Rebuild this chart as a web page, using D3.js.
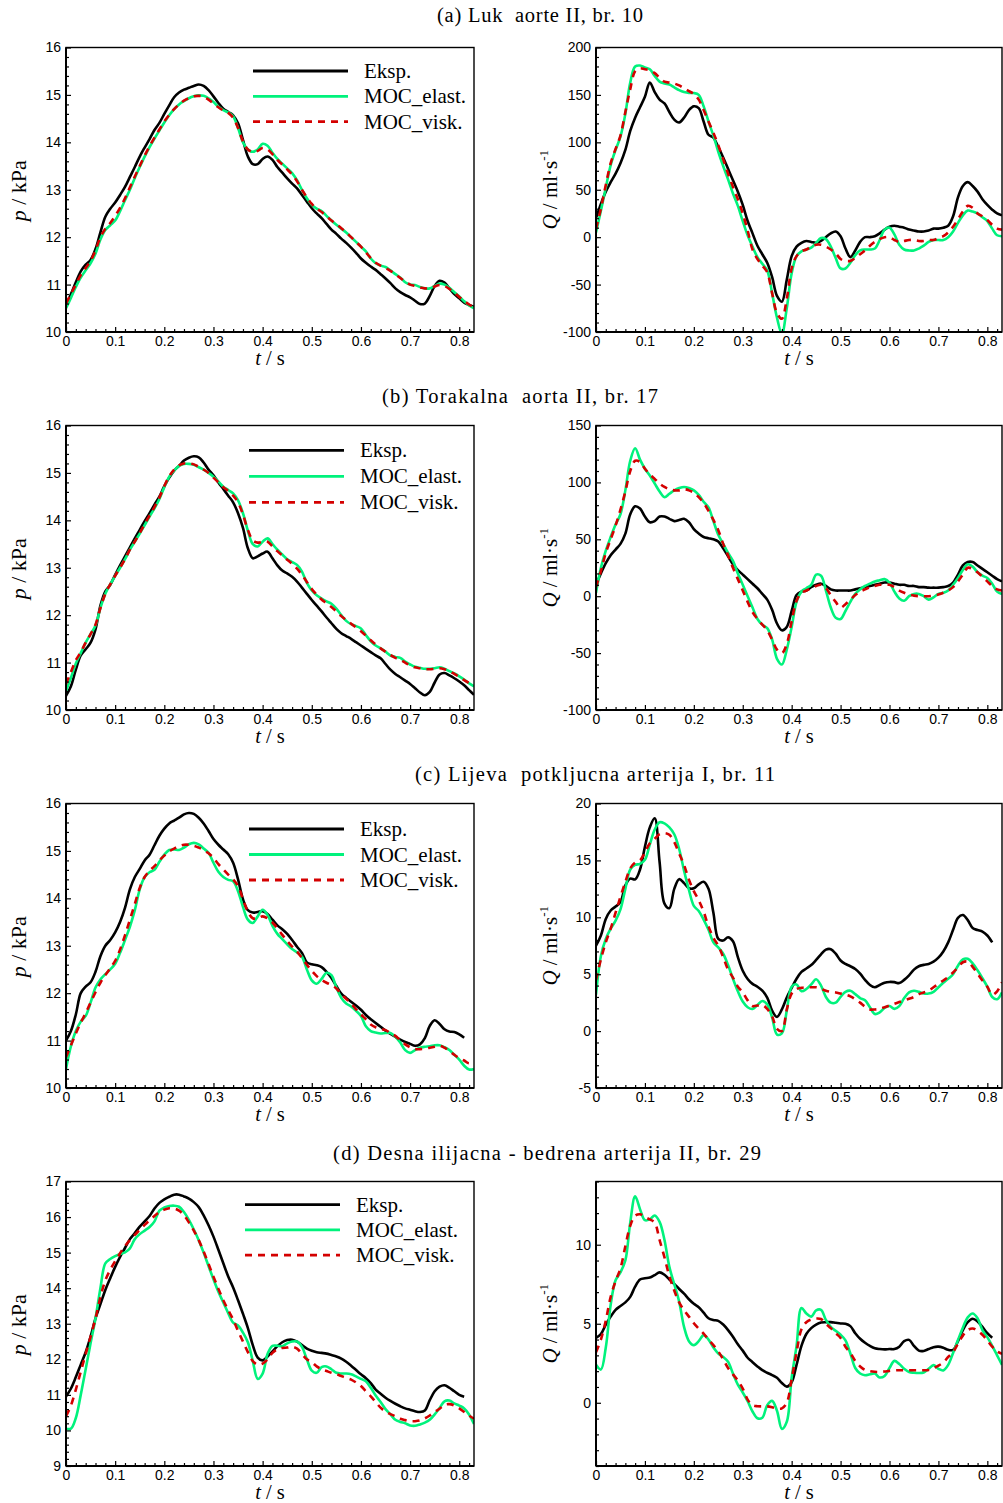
<!DOCTYPE html>
<html><head><meta charset="utf-8">
<script src="https://cdn.jsdelivr.net/npm/d3@7"></script>
<style>body{margin:0;background:#fff}svg{display:block}text{white-space:pre}</style>
</head><body>
<svg id="c" width="1003" height="1503"></svg>
<script>
// ---------- shared sampling grid (s) ----------
const t = [0,0.01,0.02,0.03,0.04,0.05,0.06,0.07,0.08,0.09,0.1,0.11,0.12,0.13,0.14,0.15,0.16,0.17,0.18,0.19,0.2,0.21,0.22,0.23,0.24,0.25,0.26,0.27,0.28,0.29,0.3,0.31,0.32,0.33,0.34,0.35,0.36,0.37,0.38,0.39,0.4,0.41,0.42,0.43,0.44,0.45,0.46,0.47,0.48,0.49,0.5,0.51,0.52,0.53,0.54,0.55,0.56,0.57,0.58,0.59,0.6,0.61,0.62,0.63,0.64,0.65,0.66,0.67,0.68,0.69,0.7,0.71,0.72,0.73,0.74,0.75,0.76,0.77,0.78,0.79,0.8,0.81,0.82,0.83];

const legendLabels = ["Eksp.", "MOC_elast.", "MOC_visk."];
const titles = ["(a) Luk  aorte II, br. 10", "(b) Torakalna  aorta II, br. 17", "(c) Lijeva  potkljucna arterija I, br. 11", "(d) Desna ilijacna - bedrena arterija II, br. 29"];
const xTicks = [0,0.1,0.2,0.3,0.4,0.5,0.6,0.7,0.8];
const xTickLabels = ["0","0.1","0.2","0.3","0.4","0.5","0.6","0.7","0.8"];
const pTicks16 = [10,11,12,13,14,15,16];
const pTicks17 = [9,10,11,12,13,14,15,16,17];
const qTicksA = [-100,-50,0,50,100,150,200];
const qTicksB = [-100,-50,0,50,100,150];
const qTicksC = [-5,0,5,10,15,20];
const qTicksD = [0,5,10];

// ---------- (a) ----------
const aP_eksp = [10.55,10.8,11.05,11.28,11.42,11.52,11.75,12.1,12.43,12.6,12.73,12.89,13.06,13.27,13.48,13.7,13.89,14.07,14.26,14.41,14.6,14.78,14.95,15.05,15.11,15.15,15.19,15.22,15.19,15.1,14.97,14.83,14.71,14.64,14.57,14.4,14.05,13.7,13.54,13.54,13.65,13.7,13.63,13.48,13.36,13.24,13.13,13.03,12.89,12.75,12.61,12.5,12.4,12.28,12.16,12.07,11.97,11.88,11.78,11.67,11.55,11.46,11.38,11.31,11.22,11.13,11.03,10.92,10.84,10.78,10.73,10.66,10.59,10.6,10.76,10.97,11.08,11.04,10.92,10.8,10.71,10.62,10.57,10.53];
const aP_elast = [10.5,10.72,10.95,11.15,11.3,11.45,11.65,11.95,12.15,12.25,12.35,12.55,12.78,13.0,13.25,13.48,13.7,13.9,14.08,14.25,14.42,14.57,14.7,14.8,14.87,14.93,14.97,14.99,14.98,14.93,14.85,14.75,14.68,14.63,14.55,14.3,14.0,13.85,13.8,13.85,13.97,13.93,13.78,13.65,13.55,13.45,13.35,13.2,13.0,12.82,12.68,12.6,12.55,12.45,12.35,12.26,12.18,12.1,12.0,11.9,11.8,11.7,11.55,11.45,11.4,11.37,11.3,11.22,11.15,11.05,11.0,10.99,10.95,10.92,10.92,10.97,11.02,11.0,10.93,10.84,10.75,10.65,10.56,10.5];
const aP_visk = [10.6,10.8,11.0,11.2,11.35,11.5,11.72,12.0,12.18,12.3,12.45,12.62,12.82,13.05,13.28,13.5,13.72,13.92,14.1,14.27,14.44,14.58,14.7,14.8,14.88,14.93,14.97,14.98,14.96,14.9,14.82,14.74,14.67,14.62,14.52,14.3,14.02,13.85,13.8,13.82,13.88,13.85,13.75,13.63,13.53,13.43,13.32,13.18,13.0,12.84,12.7,12.6,12.53,12.44,12.35,12.27,12.19,12.1,12.0,11.9,11.8,11.68,11.56,11.46,11.4,11.35,11.29,11.22,11.14,11.06,11.0,10.97,10.94,10.92,10.92,10.96,10.99,10.97,10.91,10.83,10.74,10.66,10.58,10.52];
const aQ_eksp = [20,35,48,58,67,78,92,112,126,137,148,163,153,145,141,132,124,121,126,134,138,136,122,108,105,95,84,72,60,48,34,17,4,-9,-18,-27,-42,-62,-68,-45,-20,-10,-6,-4,-5,-6,-4,0,4,6,1,-12,-21,-14,-5,0,0,1,4,8,11,12,11,10,8,7,6,6,7,9,9,10,12,22,42,54,58,54,48,40,34,29,25,23];
const aQ_elast = [5,28,52,76,92,106,130,163,180,181,179,177,170,164,162,161,158,155,153,152,152,150,138,122,107,90,75,61,46,33,17,2,-10,-21,-28,-35,-59,-85,-102,-75,-38,-20,-15,-13,-11,-6,-1,-2,-10,-22,-33,-33,-27,-19,-14,-13,-13,-12,-3,8,10,3,-8,-13,-14,-14,-12,-9,-5,-3,-3,-3,0,6,15,23,28,27,25,21,17,9,2,1];
const aQ_visk = [9,30,55,78,93,107,132,156,175,178,177,176,173,168,164,163,162,160,157,154,151,145,134,122,110,97,82,67,53,40,25,7,-13,-23,-30,-37,-59,-80,-86,-65,-33,-20,-15,-13,-10,-8,-8,-10,-13,-17,-23,-25,-25,-22,-18,-14,-9,-5,-2,0,0,-3,-5,-4,-3,-3,-4,-4,-3,-3,-1,1,5,11,19,27,33,31,25,22,18,13,9,8];

// ---------- (b) ----------
const bP_eksp = [10.3,10.5,10.85,11.15,11.28,11.42,11.7,12.2,12.5,12.64,12.85,13.05,13.24,13.43,13.62,13.8,13.98,14.15,14.33,14.5,14.72,14.9,15.05,15.15,15.26,15.32,15.35,15.33,15.22,15.07,14.95,14.8,14.66,14.52,14.38,14.15,13.84,13.41,13.2,13.24,13.3,13.34,13.2,13.05,12.94,12.88,12.81,12.71,12.58,12.45,12.32,12.2,12.08,11.95,11.83,11.71,11.62,11.56,11.5,11.43,11.36,11.29,11.22,11.15,11.09,10.97,10.85,10.76,10.69,10.62,10.55,10.46,10.37,10.31,10.38,10.58,10.75,10.78,10.73,10.67,10.6,10.52,10.42,10.32];
const bP_elast = [10.4,10.68,10.98,11.2,11.42,11.6,11.78,12.15,12.45,12.65,12.83,13.0,13.18,13.38,13.55,13.72,13.9,14.08,14.25,14.45,14.7,14.92,15.05,15.15,15.19,15.19,15.17,15.12,15.07,15.0,14.92,14.82,14.71,14.64,14.57,14.42,14.15,13.78,13.5,13.45,13.55,13.62,13.5,13.38,13.28,13.18,13.12,13.06,12.92,12.68,12.52,12.42,12.35,12.29,12.24,12.14,12.0,11.88,11.81,11.77,11.72,11.58,11.45,11.36,11.3,11.23,11.15,11.12,11.1,11.02,10.96,10.91,10.89,10.87,10.87,10.88,10.9,10.87,10.82,10.77,10.71,10.64,10.56,10.5];
const bP_visk = [10.55,10.8,11.05,11.22,11.42,11.6,11.8,12.15,12.45,12.65,12.83,13.0,13.18,13.38,13.55,13.73,13.92,14.1,14.28,14.48,14.72,14.93,15.07,15.16,15.2,15.2,15.18,15.13,15.07,15.0,14.9,14.8,14.7,14.62,14.52,14.38,14.12,13.8,13.58,13.53,13.55,13.55,13.45,13.35,13.26,13.17,13.08,12.98,12.85,12.7,12.55,12.43,12.33,12.25,12.17,12.08,11.98,11.9,11.82,11.74,11.66,11.57,11.47,11.38,11.3,11.23,11.16,11.1,11.06,11.0,10.94,10.9,10.88,10.86,10.86,10.87,10.88,10.86,10.82,10.76,10.7,10.63,10.57,10.52];
const bQ_eksp = [10,20,29,36,41,46,55,72,79,77,70,65,66,70,70,68,66,67,68,65,59,55,52,51,50,48,42,35,28,23,19,15,11,7,2,-3,-12,-24,-30,-27,-13,1,4,5,8,10,11,9,6,5,5,5,5,6,7,8,9,10,11,12,12,11,10,10,9,9,8,8,7.5,7.5,7.5,8,9,12,19,27,30,30,27,24,21,18,15,13];
const bQ_elast = [3,25,40,52,63,72,93,119,130,120,112,106,99,92,87,90,93,95,96,95,93,89,83,78,66,54,46,38,31,20,10,0,-10,-20,-25,-28,-38,-55,-60,-47,-27,-5,4,7,10,19,18,5,-10,-19,-20,-13,-5,2,6,9,11,13,14,15,12,4,-2,-4,0,2,2,0,-3,-1,2,3,5,10,16,23,28,26,21,18,16,11,4,2];
const bQ_visk = [8,22,38,50,62,76,92,110,119,118,112,107,103,99,96,94,93,93,94,93,91,87,82,75,67,58,46,36,25,15,5,-5,-14,-20,-25,-30,-38,-47,-50,-42,-22,-4,3,5,7,9,10,7,1,-5,-10,-7,-3,1,4,6,8,9,10,10,10,8,5,3,1.5,0.5,0,0,0,0.5,1.5,3,5,8,13,19,25,24,21,17,13,9,6,5];

// ---------- (c) ----------
const cP_eksp = [11.0,11.2,11.55,12.0,12.14,12.23,12.45,12.78,13.0,13.12,13.28,13.5,13.8,14.19,14.45,14.62,14.8,14.92,15.12,15.32,15.47,15.58,15.64,15.7,15.77,15.8,15.78,15.7,15.58,15.42,15.25,15.13,15.03,14.93,14.75,14.4,13.98,13.75,13.7,13.71,13.73,13.67,13.55,13.43,13.35,13.25,13.12,12.98,12.85,12.65,12.61,12.59,12.55,12.45,12.32,12.15,11.99,11.9,11.82,11.74,11.65,11.54,11.45,11.37,11.29,11.21,11.14,11.08,11.02,10.97,10.93,10.89,10.92,11.05,11.31,11.43,11.35,11.24,11.19,11.18,11.13,11.06,null,null];
const cP_elast = [10.4,10.88,11.2,11.4,11.52,11.8,12.12,12.29,12.4,12.5,12.62,12.85,13.12,13.4,13.75,14.19,14.45,14.55,14.6,14.77,14.92,15.02,15.03,15.02,15.07,15.14,15.17,15.14,15.05,14.96,14.75,14.56,14.45,14.39,14.36,14.15,13.82,13.55,13.48,13.62,13.76,13.65,13.42,13.25,13.14,13.03,12.93,12.86,12.77,12.5,12.27,12.2,12.3,12.43,12.38,12.12,11.9,11.78,11.72,11.63,11.52,11.3,11.2,11.17,11.15,11.16,11.16,11.08,10.96,10.8,10.74,10.8,10.85,10.87,10.88,10.9,10.9,10.86,10.8,10.7,10.6,10.47,10.39,10.4];
const cP_visk = [10.65,10.9,11.15,11.38,11.58,11.8,12.02,12.22,12.38,12.53,12.68,12.92,13.22,13.55,13.88,14.22,14.45,14.58,14.68,14.8,14.9,14.99,15.05,15.1,15.13,15.13,15.11,15.07,15.02,14.95,14.85,14.72,14.61,14.5,14.4,14.26,13.98,13.72,13.58,13.58,13.62,13.58,13.49,13.37,13.23,13.1,12.98,12.88,12.74,12.6,12.47,12.36,12.28,12.22,12.17,12.1,11.98,11.88,11.78,11.66,11.55,11.45,11.34,11.28,11.25,11.22,11.16,11.1,11.0,10.92,10.86,10.82,10.82,10.83,10.85,10.87,10.89,10.85,10.78,10.7,10.63,10.58,10.52,10.57];
const cQ_eksp = [7.5,8.4,9.86,10.6,10.95,11.33,12.8,13.4,13.33,14.2,16.2,17.9,18.7,14.86,11.2,10.8,12.5,13.35,13.0,12.55,12.55,12.9,13.12,12.5,10.4,8.1,7.96,8.25,7.9,6.5,5.3,4.58,4.15,3.9,3.55,2.95,1.8,1.25,1.9,2.95,3.8,4.6,5.2,5.5,5.8,6.25,6.75,7.16,7.2,6.8,6.2,5.9,5.7,5.46,5.05,4.5,4.05,3.85,4.05,4.25,4.32,4.3,4.22,4.5,4.9,5.4,5.7,5.82,5.9,6.1,6.45,7.0,7.8,8.9,9.95,10.2,9.75,9.05,8.88,8.75,8.4,7.8,null,null];
const cQ_elast = [3.2,6.6,8.1,9.0,9.7,10.7,12.5,14.2,14.6,14.7,15.05,16.4,17.7,18.35,18.25,17.9,17.3,16.0,14.1,12.4,11.0,10.55,9.8,8.9,7.8,7.35,6.8,5.8,4.6,3.5,2.6,2.1,1.95,2.3,2.65,2.35,1.2,-0.3,-0.2,1.8,3.9,4.1,3.5,3.7,4.1,4.55,4.0,3.0,2.5,2.5,3.0,3.45,3.55,3.25,2.9,2.7,2.1,1.5,1.65,2.05,2.2,1.95,2.2,2.9,3.4,3.55,3.45,3.3,3.3,3.45,3.85,4.25,4.6,5.0,5.75,6.3,6.35,5.95,5.35,4.65,3.9,3.0,2.8,3.4];
const cQ_visk = [4.5,6.3,7.8,9.0,10.4,11.8,13.1,14.3,14.8,15.0,15.7,16.5,16.9,17.3,17.4,17.25,16.6,15.6,14.6,13.3,12.3,11.5,10.5,9.2,8.2,7.5,6.5,5.4,4.7,3.9,3.4,2.7,2.2,2.25,2.3,1.95,1.3,0.2,0.0,1.9,3.3,3.7,3.8,3.85,3.85,3.85,3.7,3.55,3.45,3.4,3.3,3.2,3.05,2.8,2.5,2.15,1.9,1.9,1.95,2.1,2.25,2.4,2.55,2.7,2.85,3.0,3.25,3.4,3.55,3.85,4.15,4.45,4.75,5.15,5.6,6.05,6.1,5.65,5.05,4.45,3.9,3.2,3.5,4.3];

// ---------- (d) ----------
const dP_eksp = [10.95,11.18,11.5,11.85,12.2,12.64,13.15,13.55,13.95,14.28,14.6,14.88,15.13,15.38,15.55,15.73,15.88,16.03,16.24,16.4,16.5,16.57,16.63,16.63,16.58,16.52,16.42,16.28,16.05,15.77,15.45,15.08,14.7,14.33,14.02,13.66,13.28,12.88,12.4,12.05,11.97,12.08,12.22,12.37,12.48,12.54,12.55,12.5,12.4,12.3,12.24,12.2,12.18,12.16,12.12,12.08,12.02,11.93,11.82,11.7,11.58,11.47,11.33,11.15,11.03,10.92,10.83,10.75,10.68,10.62,10.58,10.54,10.52,10.56,10.85,11.1,11.23,11.27,11.2,11.1,11.0,10.95,null,null];
const dP_elast = [10.05,10.05,10.35,11.0,11.72,12.45,13.15,14.0,14.7,14.82,14.9,14.96,15.01,15.12,15.38,15.52,15.62,15.72,15.88,16.18,16.27,16.31,16.32,16.29,16.14,15.92,15.65,15.35,15.0,14.62,14.25,13.9,13.6,13.3,13.03,12.95,12.75,12.48,11.95,11.45,11.6,12.15,12.38,12.38,12.37,12.45,12.5,12.5,12.35,12.0,11.68,11.62,11.78,11.8,11.72,11.62,11.6,11.6,11.58,11.52,11.45,11.38,11.2,10.98,10.8,10.6,10.45,10.3,10.24,10.2,10.14,10.13,10.17,10.22,10.3,10.45,10.63,10.82,10.84,10.76,10.7,10.62,10.45,10.18];
const dP_visk = [10.4,10.7,11.15,11.65,12.15,12.63,13.15,13.75,14.22,14.52,14.76,14.98,15.18,15.35,15.5,15.64,15.78,15.91,16.03,16.14,16.21,16.25,16.24,16.18,16.05,15.85,15.62,15.35,15.03,14.68,14.32,13.98,13.66,13.38,13.12,12.8,12.5,12.2,11.95,11.85,11.88,12.0,12.18,12.28,12.32,12.33,12.35,12.3,12.15,12.0,11.92,11.8,11.72,11.67,11.62,11.58,11.53,11.48,11.43,11.35,11.25,11.1,10.96,10.8,10.64,10.53,10.46,10.4,10.33,10.29,10.26,10.26,10.28,10.34,10.42,10.52,10.61,10.72,10.74,10.7,10.62,10.52,10.42,10.33];
const dQ_eksp = [4.1,4.35,4.95,5.45,5.88,6.12,6.35,6.7,7.35,7.8,7.88,7.92,8.08,8.25,8.1,7.8,7.52,7.2,6.9,6.55,6.26,6.05,5.7,5.35,5.24,5.18,4.95,4.6,4.18,3.7,3.3,2.85,2.57,2.3,2.06,1.9,1.75,1.58,1.25,1.02,1.3,2.4,3.6,4.35,4.72,4.95,5.08,5.1,5.1,5.06,5.02,5.0,4.85,4.4,4.05,3.8,3.6,3.45,3.4,3.38,3.4,3.4,3.55,3.9,3.98,3.6,3.3,3.28,3.4,3.52,3.55,3.48,3.35,3.35,3.9,4.6,5.1,5.32,5.15,4.8,4.4,4.12,null,null];
const dQ_elast = [2.4,2.1,3.5,6.2,7.75,8.25,9.0,11.4,13.06,12.25,11.55,11.6,11.85,11.45,10.3,8.6,7.5,6.4,4.8,3.9,3.65,3.9,4.28,4.0,3.5,3.12,2.9,2.6,1.85,1.15,0.65,0.1,-0.55,-0.98,-0.95,-0.15,0.12,-0.5,-1.65,-1.2,1.6,3.6,6.0,5.65,5.45,5.85,5.88,5.24,4.8,4.55,4.3,3.95,3.12,2.2,1.85,1.74,1.8,1.85,1.6,1.7,2.2,2.65,2.45,2.15,1.95,1.9,1.88,1.92,2.15,2.38,2.15,2.05,2.4,3.15,3.97,4.75,5.4,5.65,5.35,4.6,4.15,3.6,3.0,2.4];
const dQ_visk = [3.2,4.0,5.2,6.7,7.7,8.5,9.9,11.2,11.83,11.93,11.75,11.6,11.4,10.3,9.2,8.0,7.1,6.35,5.85,5.45,5.03,4.7,4.38,4.0,3.65,3.25,2.75,2.2,1.8,1.4,0.9,0.2,-0.15,-0.22,-0.23,-0.23,-0.28,-0.36,-0.35,0.0,1.5,3.2,4.65,5.1,5.27,5.33,5.3,5.0,4.72,4.4,4.1,3.55,3.15,2.65,2.3,2.08,2.0,1.96,1.95,1.98,2.02,2.05,2.06,2.06,2.06,2.06,2.06,2.06,2.08,2.2,2.35,2.55,2.9,3.2,3.75,4.25,4.6,4.7,4.55,4.3,3.95,3.55,3.25,3.1];

// ---------- drawing ----------
const SERIF = "'Liberation Serif','Times New Roman',Times,serif";
const SANS = "'Liberation Sans',Arial,Helvetica,sans-serif";
const styles = [
  {stroke:"#000000", dash:null},
  {stroke:"#00f27c", dash:null},
  {stroke:"#d40000", dash:"7,6"}
];
const svg = d3.select("#c");

const rows = [
  {title:titles[0], tx:437, tw:206, ty:22, top:47.5, bottom:332,
   leg:{x1:253,x2:348,y:71,dy:25.3,tx:364},
   left:{dom:[10,16], ticks:pTicks16, minor:0.2, series:[aP_eksp,aP_elast,aP_visk]},
   right:{dom:[-100,200], ticks:qTicksA, minor:10, series:[aQ_eksp,aQ_elast,aQ_visk]}},
  {title:titles[1], tx:382, tw:276, ty:403, top:425.5, bottom:710,
   leg:{x1:249,x2:344,y:450.3,dy:26,tx:360},
   left:{dom:[10,16], ticks:pTicks16, minor:0.2, series:[bP_eksp,bP_elast,bP_visk]},
   right:{dom:[-100,150], ticks:qTicksB, minor:10, series:[bQ_eksp,bQ_elast,bQ_visk]}},
  {title:titles[2], tx:415, tw:360, ty:781, top:803.5, bottom:1088,
   leg:{x1:249,x2:344,y:829,dy:25.5,tx:360},
   left:{dom:[10,16], ticks:pTicks16, minor:0.2, series:[cP_eksp,cP_elast,cP_visk]},
   right:{dom:[-5,20], ticks:qTicksC, minor:1, series:[cQ_eksp,cQ_elast,cQ_visk]}},
  {title:titles[3], tx:333, tw:428, ty:1160, top:1181.5, bottom:1466,
   leg:{x1:245,x2:340,y:1204.7,dy:25.2,tx:356},
   left:{dom:[9,17], ticks:pTicks17, minor:0.2, series:[dP_eksp,dP_elast,dP_visk]},
   right:{dom:[-4,14], ticks:qTicksD, minor:1, series:[dQ_eksp,dQ_elast,dQ_visk]}}
];

let clipId = 0;
function panel(row, cfg, x0, x1, isLeft) {
  const x = d3.scaleLinear().domain([0, 0.83]).range([x0, x1]);
  const y = d3.scaleLinear().domain(cfg.dom).range([row.bottom, row.top]);
  const g = svg.append("g");
  const id = "clip" + (clipId++);
  svg.append("clipPath").attr("id", id).append("rect")
    .attr("x", x0).attr("y", row.top).attr("width", x1 - x0).attr("height", row.bottom - row.top);

  const line = d3.line().defined(d => d[1] != null)
    .x(d => x(d[0])).y(d => y(d[1])).curve(d3.curveCatmullRom.alpha(0.5));
  const cg = g.append("g").attr("clip-path", `url(#${id})`);
  cfg.series.forEach((vals, i) => {
    const pts = t.map((tv, k) => [tv, vals[k] === undefined ? null : vals[k]]);
    cg.append("path").attr("d", line(pts)).attr("fill", "none")
      .attr("stroke", styles[i].stroke).attr("stroke-width", 2.6)
      .attr("stroke-dasharray", styles[i].dash).attr("stroke-linejoin", "round");
  });

  g.append("rect").attr("x", x0).attr("y", row.top).attr("width", x1 - x0)
    .attr("height", row.bottom - row.top).attr("fill", "none").attr("stroke", "#000").attr("stroke-width", 1.4);

  const xMinor = d3.range(0, 0.8201, 0.02).filter(v => Math.abs(v * 10 - Math.round(v * 10)) > 1e-6);
  const xa = g.append("g").attr("transform", `translate(0,${row.bottom})`)
    .call(d3.axisBottom(x).tickValues(xTicks).tickFormat((d, i) => xTickLabels[i]).tickSize(-5).tickPadding(4));
  const xm = g.append("g").attr("transform", `translate(0,${row.bottom})`)
    .call(d3.axisBottom(x).tickValues(xMinor).tickFormat("").tickSize(-3));
  const step = cfg.minor;
  const yMinor = d3.range(cfg.dom[0], cfg.dom[1] + step / 2, step)
    .filter(v => !cfg.ticks.some(tk => Math.abs(tk - v) < step / 10));
  const ya = g.append("g").attr("transform", `translate(${x0},0)`)
    .call(d3.axisLeft(y).tickValues(cfg.ticks).tickFormat(d => String(d)).tickSize(-5).tickPadding(5));
  const ym = g.append("g").attr("transform", `translate(${x0},0)`)
    .call(d3.axisLeft(y).tickValues(yMinor).tickFormat("").tickSize(-3));
  [xa, xm, ya, ym].forEach(a => {
    a.select(".domain").remove();
    a.selectAll("line").attr("stroke", "#000").attr("stroke-width", 1.2);
    a.selectAll("text").attr("font-family", SANS).attr("font-size", 14).attr("fill", "#000");
  });
  g.append("line").attr("x1", x0).attr("x2", x1).attr("y1", row.bottom).attr("y2", row.bottom)
    .attr("stroke", "#000").attr("stroke-width", 2);
  g.append("line").attr("x1", x0).attr("x2", x0).attr("y1", row.top).attr("y2", row.bottom)
    .attr("stroke", "#000").attr("stroke-width", 2);

  const xl = g.append("text").attr("x", (x0 + x1) / 2).attr("y", row.bottom + 32.5)
    .attr("text-anchor", "middle").attr("font-family", SERIF).attr("font-size", 20.5);
  xl.append("tspan").attr("font-style", "italic").text("t");
  xl.append("tspan").text(" / s");

  const cy = (row.top + row.bottom) / 2;
  if (isLeft) {
    const yl = g.append("text").attr("transform", `translate(26,${cy + 1}) rotate(-90)`)
      .attr("text-anchor", "middle").attr("font-family", SERIF).attr("font-size", 22);
    yl.append("tspan").attr("font-style", "italic").text("p");
    yl.append("tspan").text(" / kPa");
  } else {
    const yl = g.append("text").attr("transform", `translate(557,${cy}) rotate(-90)`)
      .attr("text-anchor", "middle").attr("font-family", SERIF).attr("font-size", 21);
    yl.append("tspan").attr("font-style", "italic").text("Q");
    yl.append("tspan").text(" / ml·s");
    yl.append("tspan").attr("font-size", 13).attr("dy", -9).text("-1");
  }

  if (isLeft) {
    const L = row.leg;
    legendLabels.forEach((lab, i) => {
      const ly = L.y + i * L.dy;
      g.append("line").attr("x1", L.x1).attr("x2", L.x2).attr("y1", ly).attr("y2", ly)
        .attr("stroke", styles[i].stroke).attr("stroke-width", 2.8).attr("stroke-dasharray", styles[i].dash);
      g.append("text").attr("x", L.tx).attr("y", ly + 7).attr("font-family", SERIF)
        .attr("font-size", 21).attr("fill", "#000").text(lab);
    });
  }
}

rows.forEach(row => {
  svg.append("text").attr("x", row.tx).attr("y", row.ty).attr("font-family", SERIF)
    .attr("font-size", 20.5).attr("fill", "#000")
    .attr("textLength", row.tw).attr("lengthAdjust", "spacing").text(row.title);
  panel(row, row.left, 66, 474, true);
  panel(row, row.right, 596, 1002, false);
});
</script>
</body></html>
